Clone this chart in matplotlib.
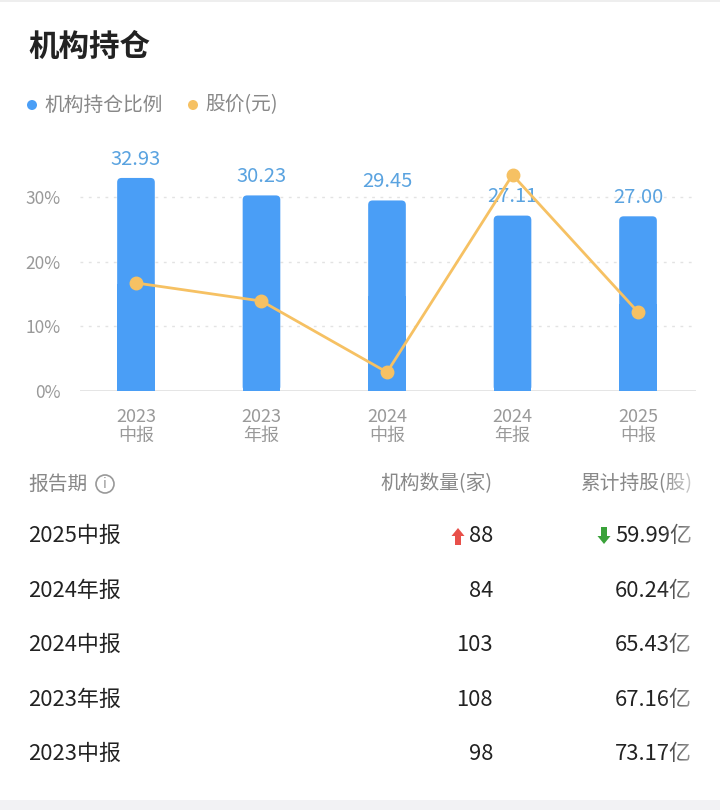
import matplotlib
matplotlib.use("Agg")
import matplotlib.pyplot as plt
import numpy as np
from matplotlib.patches import Circle, FancyArrow, FancyBboxPatch

plt.rcParams['font.family'] = ['Noto Sans CJK SC', 'DejaVu Sans']

# ---- data ----
periods = ["2023\n中报", "2023\n年报", "2024\n中报", "2024\n年报", "2025\n中报"]
holding_ratio = [32.93, 30.23, 29.45, 27.11, 27.00]
price = [16.7, 13.9, 2.9, 33.4, 12.2]
yticks = [0, 10, 20, 30]

table_period = ["2025中报", "2024年报", "2024中报", "2023年报", "2023中报"]
table_count = ["88", "84", "103", "108", "98"]
table_shares = ["59.99", "60.24", "65.43", "67.16", "73.17"]
count_change = ["up", None, None, None, None]
shares_change = ["down", None, None, None, None]

W, H = 720, 810
fig = plt.figure(figsize=(W / 100, H / 100), dpi=100)
fig.patch.set_facecolor("white")

def fx(x):
    return x / W

def fy(y):
    return 1 - y / H

# overlay axes in pixel coordinates
ov = fig.add_axes([0, 0, 1, 1], zorder=-1)
ov.set_xlim(0, W)
ov.set_ylim(H, 0)
ov.axis("off")
ov.add_patch(plt.Rectangle((0, 800), W, 10, color="#f2f2f4", lw=0))
ov.add_patch(plt.Rectangle((0, 0), W, 2, color="#eeeeee", lw=0))

# title and legend
fig.text(fx(28), fy(47), "机构持仓", fontsize=22, fontweight="bold", color="#222222", va="center", ha="left")
blue = "#4A9EF6"
orange = "#F6C163"
ov.add_patch(Circle((32, 105), 5, color=blue, lw=0))
fig.text(fx(44), fy(105), "机构持仓比例", fontsize=14.2, color="#888888", va="center", ha="left")
ov.add_patch(Circle((193, 105), 5, color=orange, lw=0))
fig.text(fx(205), fy(105), "股价(元)", fontsize=14.2, color="#888888", va="center", ha="left")

# ---- chart ----
x0, x1, yb, yt = 80, 696, 391, 140
ax = fig.add_axes([fx(x0), fy(yb), (x1 - x0) / W, (yb - yt) / H])
ymax = (yb - yt) / 64.7 * 10
xs = np.arange(len(periods))
ax.set_xlim(-0.446, 4.462)
ax.set_ylim(0, ymax)
bars = ax.bar(xs, holding_ratio, width=0.30, color=blue, zorder=2)
for b in bars:
    b.set_visible(False)
    r = FancyBboxPatch((b.get_x(), 0), b.get_width(), b.get_height(),
                       boxstyle="round,pad=0,rounding_size=0.035",
                       mutation_aspect=19.4,
                       color=blue, lw=0, zorder=2)
    ax.add_patch(r)
    ax.add_patch(plt.Rectangle((b.get_x(), 0), b.get_width(), b.get_height() * 0.5, color=blue, lw=0, zorder=2))
for xi, v in zip(xs, holding_ratio):
    ax.annotate(f"{v:.2f}", (xi, v), xytext=(0, 6), textcoords="offset points",
                ha="center", va="bottom", fontsize=14.5, color="#5AA3E0", zorder=3)
ax.set_yticks(yticks)
ax.set_yticklabels([f"{t}%" for t in yticks])
ax.set_xticks(xs)
ax.set_xticklabels(periods, linespacing=1.1)
ax.tick_params(axis="y", length=0, pad=14, labelsize=12.5, labelcolor="#999999")
ax.tick_params(axis="x", length=0, pad=12, labelsize=13, labelcolor="#999999")
for t in yticks[1:]:
    ax.axhline(t, color="#e3e3e3", lw=1, ls=(0, (2, 4)), zorder=1)
ax.axhline(0, color="#e0e0e0", lw=1.2, zorder=1)
for s in ax.spines.values():
    s.set_visible(False)
ax.patch.set_alpha(0)

ax2 = ax.twinx()
ax2.set_ylim(0, ymax)
ax2.plot(xs, price, color=orange, lw=2, marker="o", markersize=9, zorder=4)
ax2.axis("off")

# ---- table ----
hdr_y = 484
fig.text(fx(28), fy(hdr_y), "报告期", fontsize=14.2, color="#888888", va="center", ha="left")
ov.add_patch(Circle((105, hdr_y), 9, fill=False, ec="#999999", lw=1.2))
fig.text(fx(105), fy(hdr_y), "i", fontsize=10, color="#999999", va="center", ha="center", family="DejaVu Sans")
fig.text(fx(493), fy(hdr_y), "机构数量(家)", fontsize=14.2, color="#888888", va="center", ha="right")
fig.text(fx(692), fy(hdr_y), "累计持股(股)", fontsize=14.2, color="#888888", va="center", ha="right")

row_y = [536, 591, 645, 700, 754]
for i, y in enumerate(row_y):
    fig.text(fx(28), fy(y), table_period[i], fontsize=15.8, color="#222222", va="center", ha="left")
    fig.text(fx(493), fy(y), table_count[i], fontsize=15.8, color="#222222", va="center", ha="right")
    fig.text(fx(692), fy(y), table_shares[i] + "亿", fontsize=15.8, color="#222222", va="center", ha="right")
    if count_change[i] == "up":
        ov.add_patch(FancyArrow(458, y + 9, 0, -17, width=6, head_width=13, head_length=8,
                                length_includes_head=True, color="#E8504A", lw=0))
    if shares_change[i] == "down":
        ov.add_patch(FancyArrow(604, y - 9, 0, 17, width=6, head_width=13, head_length=8,
                                length_includes_head=True, color="#3AA23A", lw=0))

# right-edge fade
fade = fig.add_axes([fx(664), fy(800), 56 / W, 340 / H], zorder=10)
grad = np.zeros((1, 100, 4))
grad[..., :3] = 1
grad[..., 3] = np.clip(np.linspace(0.05, 1.1, 100), 0, 0.85)
fade.imshow(grad, aspect="auto", extent=[0, 1, 0, 1])
fade.axis("off")

fig.savefig("out.png", dpi=100, facecolor="white")
